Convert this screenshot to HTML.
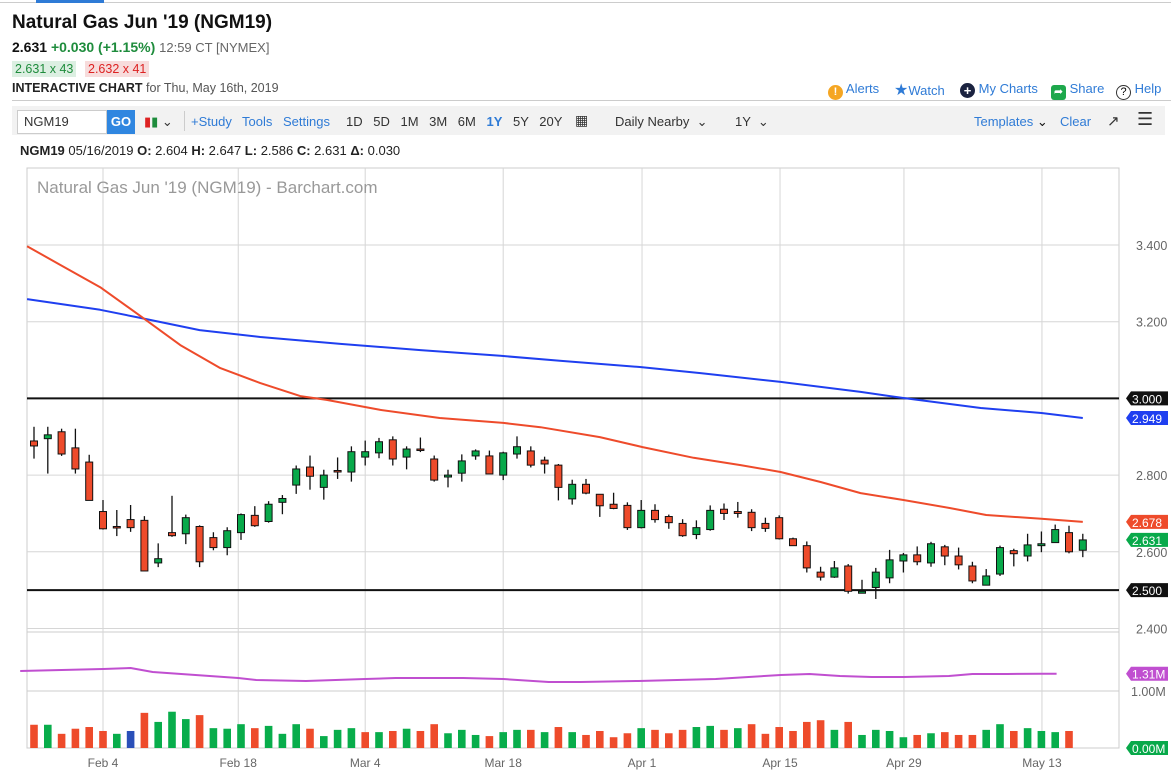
<!DOCTYPE html>
<html><head><meta charset="utf-8">
<style>
body{margin:0;width:1171px;height:771px;overflow:hidden;background:#fff;font-family:"Liberation Sans","DejaVu Sans",sans-serif;position:relative}
.a{position:absolute;white-space:nowrap}
.blue{color:#2f7bd6}
.tb{font-size:13px;color:#333;top:114px}
</style></head><body>
<div class="a" style="left:0;top:2px;width:1171px;height:1px;background:#ccc"></div>
<div class="a" style="left:36px;top:0;width:68px;height:3px;background:#2f7bd6"></div>
<div class="a" style="left:12px;top:12px;font-size:19px;font-weight:bold;color:#111">Natural Gas Jun '19 (NGM19)</div>
<div class="a" style="left:12px;top:39px;font-size:14px;color:#111"><b>2.631</b> <b style="color:#1e8c3c">+0.030 (+1.15%)</b> <span style="color:#666;font-size:13px">12:59 CT [NYMEX]</span></div>
<div class="a" style="left:12px;top:61px;padding:1px 3px;font-size:12.5px;background:#dcefe2;color:#1e8c3c">2.631 x 43</div>
<div class="a" style="left:85px;top:61px;padding:1px 3px;font-size:12.5px;background:#f7dcdc;color:#d22">2.632 x 41</div>
<div class="a" style="left:12px;top:81px;font-size:12.5px;color:#222"><b>INTERACTIVE CHART</b> <span style="color:#555">for Thu, May 16th, 2019</span></div>
<div class="a" style="left:828px;top:81px;font-size:13px" ><span style="display:inline-block;width:15px;height:15px;border-radius:50%;background:#f5a623;color:#fff;font-size:11px;text-align:center;line-height:15px;font-weight:bold;vertical-align:-2px">!</span> <span class="blue">Alerts</span></div>
<div class="a" style="left:894px;top:80px;font-size:13px"><span style="color:#2f7bd6;font-size:16px">★</span><span class="blue">Watch</span></div>
<div class="a" style="left:960px;top:81px;font-size:13px"><span style="display:inline-block;width:15px;height:15px;border-radius:50%;background:#1b2340;color:#fff;font-size:13px;text-align:center;line-height:15px;font-weight:bold;vertical-align:-2px">+</span> <span class="blue">My Charts</span></div>
<div class="a" style="left:1051px;top:81px;font-size:13px"><span style="display:inline-block;width:15px;height:15px;border-radius:3px;background:#1ea84c;color:#fff;font-size:11px;text-align:center;line-height:15px;vertical-align:-2px">➦</span> <span class="blue">Share</span></div>
<div class="a" style="left:1116px;top:81px;font-size:13px"><span style="display:inline-block;width:13px;height:13px;border-radius:50%;border:1px solid #333;font-size:11px;text-align:center;line-height:13px;vertical-align:-2px">?</span> <span class="blue">Help</span></div>
<div class="a" style="left:12px;top:100px;width:1159px;height:1px;background:#ccc"></div>
<div class="a" style="left:12px;top:106px;width:1153px;height:29px;background:#f2f2f2"></div>
<div class="a" style="left:17px;top:110px;width:82px;height:22px;border:1px solid #ccc;background:#fff;font-size:13px;line-height:22px;padding-left:6px;color:#333">NGM19</div>
<div class="a" style="left:107px;top:110px;width:28px;height:24px;background:#2f86e0;color:#fff;font-weight:bold;font-size:13px;text-align:center;line-height:24px">GO</div>
<div class="a tb" style="left:144px"><span style="color:#d22">▮</span><span style="color:#1e8c3c">▮</span> ⌄</div>
<div class="a" style="left:184px;top:111px;width:1px;height:20px;background:#ccc"></div>
<div class="a tb blue" style="left:191px;color:#2f7bd6">+Study</div>
<div class="a tb" style="left:242px;color:#2f7bd6">Tools</div>
<div class="a tb" style="left:283px;color:#2f7bd6">Settings</div>
<div class="a tb" style="left:346px;word-spacing:7px">1D 5D 1M 3M 6M <b style="color:#2f7bd6">1Y</b> 5Y 20Y</div>
<div class="a tb" style="left:575px;top:112px;font-size:14px">▦</div>
<div class="a tb" style="left:615px">Daily Nearby &nbsp;⌄</div>
<div class="a tb" style="left:735px">1Y &nbsp;⌄</div>
<div class="a tb" style="left:974px;color:#2f7bd6">Templates <span style="color:#111">⌄</span></div>
<div class="a tb" style="left:1060px;color:#2f7bd6">Clear</div>
<div class="a tb" style="left:1107px;font-size:15px;top:112px">↗</div>
<div class="a tb" style="left:1137px;font-size:18px;top:109px">☰</div>
<div class="a" style="left:20px;top:143px;font-size:13px;color:#222"><b>NGM19</b> 05/16/2019 <b>O:</b> 2.604 <b>H:</b> 2.647 <b>L:</b> 2.586 <b>C:</b> 2.631 <b>Δ:</b> 0.030</div>

<svg id="chart" class="a" style="left:0;top:0" width="1171" height="771"></svg>
<script>
const opens=[2.889,2.895,2.913,2.871,2.834,2.705,2.666,2.684,2.682,2.571,2.650,2.647,2.666,2.637,2.611,2.650,2.695,2.679,2.729,2.774,2.821,2.768,2.812,2.808,2.847,2.858,2.892,2.847,2.868,2.842,2.795,2.805,2.850,2.850,2.800,2.855,2.863,2.839,2.826,2.738,2.776,2.750,2.724,2.721,2.663,2.708,2.692,2.674,2.645,2.658,2.711,2.705,2.703,2.674,2.689,2.634,2.616,2.547,2.534,2.563,2.492,2.507,2.532,2.576,2.592,2.571,2.613,2.589,2.563,2.513,2.542,2.603,2.589,2.616,2.624,2.650,2.604];
const highs=[2.926,2.926,2.921,2.921,2.853,2.735,2.709,2.722,2.693,2.622,2.746,2.697,2.669,2.651,2.664,2.700,2.719,2.732,2.748,2.825,2.851,2.814,2.846,2.875,2.890,2.897,2.901,2.875,2.898,2.851,2.814,2.854,2.867,2.864,2.861,2.901,2.875,2.848,2.829,2.788,2.790,2.750,2.754,2.729,2.735,2.724,2.697,2.685,2.682,2.721,2.726,2.730,2.711,2.689,2.695,2.637,2.627,2.561,2.576,2.568,2.527,2.558,2.605,2.597,2.614,2.626,2.618,2.611,2.574,2.555,2.616,2.608,2.647,2.653,2.671,2.668,2.647];
const lows=[2.843,2.804,2.850,2.804,2.734,2.658,2.641,2.652,2.550,2.560,2.639,2.620,2.560,2.604,2.591,2.631,2.665,2.676,2.698,2.751,2.762,2.736,2.790,2.783,2.825,2.844,2.825,2.815,2.860,2.783,2.768,2.783,2.840,2.803,2.787,2.843,2.820,2.804,2.734,2.723,2.750,2.691,2.711,2.657,2.661,2.676,2.660,2.639,2.633,2.655,2.683,2.689,2.654,2.652,2.632,2.616,2.546,2.525,2.532,2.491,2.492,2.477,2.518,2.546,2.565,2.561,2.565,2.554,2.518,2.513,2.537,2.562,2.575,2.599,2.624,2.596,2.586];
const closes=[2.876,2.905,2.855,2.816,2.734,2.660,2.664,2.663,2.550,2.582,2.642,2.689,2.574,2.611,2.655,2.697,2.668,2.724,2.739,2.816,2.797,2.800,2.811,2.861,2.861,2.887,2.842,2.868,2.867,2.787,2.800,2.837,2.863,2.803,2.858,2.874,2.826,2.829,2.768,2.776,2.753,2.720,2.713,2.663,2.708,2.684,2.676,2.642,2.663,2.708,2.700,2.700,2.663,2.661,2.634,2.616,2.558,2.534,2.558,2.497,2.497,2.547,2.579,2.592,2.574,2.621,2.589,2.566,2.524,2.537,2.611,2.595,2.618,2.621,2.658,2.600,2.631];
const volumes=[0.41,0.41,0.25,0.34,0.37,0.30,0.25,0.30,0.62,0.46,0.64,0.51,0.58,0.35,0.34,0.42,0.35,0.39,0.25,0.42,0.34,0.21,0.32,0.35,0.28,0.28,0.30,0.34,0.30,0.42,0.26,0.32,0.23,0.21,0.28,0.32,0.32,0.28,0.37,0.28,0.23,0.30,0.19,0.26,0.35,0.32,0.26,0.32,0.37,0.39,0.32,0.35,0.42,0.25,0.37,0.30,0.46,0.49,0.32,0.46,0.23,0.32,0.30,0.19,0.23,0.26,0.28,0.23,0.23,0.32,0.42,0.30,0.35,0.30,0.28,0.30];
const volColors="rgrrrrgbrgggrgggrgggrgggrgrgrrgggrggrgrgrrrrgrrrggrgrrrrrrgrggggrgrrrggrgggr";
const ma50Idx=[-0.5,1.9,4.8,7.7,10.6,13.5,16.4,19.3,21.2,25.1,29.4,34,36.7,41,44.1,47.8,51.2,54.1,57,59.9,63,66.4,69,73,76];
const ma50Val=[3.397,3.348,3.290,3.215,3.139,3.079,3.040,3.006,2.996,2.970,2.949,2.936,2.925,2.899,2.873,2.845,2.826,2.808,2.782,2.753,2.735,2.714,2.696,2.686,2.678];
const ma200Idx=[-0.5,4.8,7.7,12,16.4,22.2,28,33.8,38.1,43.9,48.3,54.1,59.9,63,68.6,73,76];
const ma200Val=[3.259,3.231,3.210,3.178,3.160,3.142,3.126,3.111,3.098,3.082,3.066,3.043,3.017,3.001,2.975,2.962,2.949];
const volMaIdx=[-1,5,7,8.6,14.8,16.1,19.7,24,26.2,31.1,34,37.3,39.6,43.8,49.4,54.1,56.2,58.4,60.7,63,66.3,68,70.5,73,74.1];
const volMaVal=[1.358,1.393,1.411,1.340,1.235,1.199,1.182,1.217,1.235,1.235,1.217,1.164,1.164,1.182,1.217,1.287,1.305,1.270,1.252,1.252,1.270,1.305,1.305,1.31,1.31];
const priceTicks=[3.4,3.2,3.0,2.8,2.6,2.4];
const dateLabels=["Feb 4","Feb 18","Mar 4","Mar 18","Apr 1","Apr 15","Apr 29","May 13"];
const dateIdx=[5,14.8,24,34,44.06,54.06,63.04,73.04];
const hLines=[3.0,2.5];

const svg=document.getElementById('chart');
const NS='http://www.w3.org/2000/svg';
const L=27,R=1119,PT=168,PB=629;
const xOf=i=>34+i*13.8;
const yOf=p=>245+(3.4-p)*383.5;
const vY=v=>748-v*56.7;
function mk(t,a,p){const e=document.createElementNS(NS,t);for(const k in a)e.setAttribute(k,a[k]);(p||svg).appendChild(e);return e;}
let fr=mk('rect',{x:L,y:PT,width:R-L,height:748-PT,fill:'none',stroke:'#ccc'});


let sep=mk('line',{x1:L,x2:R,y1:632,y2:632,stroke:'#ccc'});


let vg=mk('line',{x1:L,x2:R,y1:691,y2:691,stroke:'#ccc'});


priceTicks.forEach(p=>{
  const y=yOf(p);
  const g=mk('line',{x1:L,x2:R,y1:y,y2:y,stroke:'#d6d6d6'});
  
  
  const t=mk('text',{x:1136,y:y+5,'font-size':12.5,fill:'#666'});t.textContent=p.toFixed(3);
  
  
});
dateLabels.forEach((d,k)=>{
  const x=xOf(dateIdx[k]);
  const g=mk('line',{x1:x,x2:x,y1:PT,y2:748,stroke:'#d6d6d6'});
  
  
  const t=mk('text',{x:x,y:767,'font-size':12,fill:'#666','text-anchor':'middle'});t.textContent=d;
  
  
});
const ttl=mk('text',{x:37,y:193,'font-size':17,fill:'#999'});ttl.textContent="Natural Gas Jun '19 (NGM19) - Barchart.com";


hLines.forEach(p=>{
  const l=mk('line',{x1:L,x2:R,y1:yOf(p),y2:yOf(p),stroke:'#111','stroke-width':2});
  
  
});
function path(ix,vals,yf,color,name){
  const d=ix.map((i,k)=>(k?'L':'M')+xOf(i).toFixed(1)+','+yf(vals[k]).toFixed(1)).join(' ');
  const p=mk('path',{d:d,fill:'none',stroke:color,'stroke-width':2,'stroke-linejoin':'round'});
  
  
}
path(ma200Idx,ma200Val,yOf,'#1f3ff0','ma-200-line');
path(ma50Idx,ma50Val,yOf,'#ee4b2b','ma-50-line');
path(volMaIdx,volMaVal,vY,'#c04fd0','volume-ma-line');
closes.forEach((c,i)=>{
  const x=xOf(i),o=opens[i],up=c>=o;
  const g=mk('g',{});
  
  
  mk('line',{x1:x,x2:x,y1:yOf(highs[i]),y2:yOf(lows[i]),stroke:'#111','stroke-width':1.3},g);
  const top=yOf(Math.max(o,c)),bot=yOf(Math.min(o,c));
  mk('rect',{x:x-3.5,y:top,width:7,height:Math.max(bot-top,1.5),fill:up?'#08a94a':'#ee4b2b',stroke:'#111','stroke-width':1},g);
});
volumes.forEach((v,i)=>{
  const ch=volColors[i];
  const b=mk('rect',{x:xOf(i)-3.8,y:vY(v),width:7.6,height:v*56.7,fill:ch==='g'?'#08ad4b':ch==='b'?'#2a4fb8':'#ee4b2b'});
  
  
});
const vl=mk('text',{x:1131,y:696,'font-size':12.5,fill:'#666'});vl.textContent='1.00M';


function tag(y,txt,color,name){
  const g=mk('g',{});
  
  
  mk('path',{d:`M1126,${y} L1131,${y-7} L1168,${y-7} L1168,${y+7} L1131,${y+7} Z`,fill:color},g);
  const t=mk('text',{x:1132,y:y+5,'font-size':12,fill:'#fff'},g);t.textContent=txt;
}
tag(yOf(3.0),'3.000','#111','level-tag-3000');
tag(yOf(ma200Val[ma200Val.length-1]),ma200Val[ma200Val.length-1].toFixed(3),'#1f3ff0','ma-200-tag');
tag(yOf(ma50Val[ma50Val.length-1]),ma50Val[ma50Val.length-1].toFixed(3),'#ee4b2b','ma-50-tag');
tag(yOf(closes[closes.length-1]),closes[closes.length-1].toFixed(3),'#08a94a','last-price-tag');
tag(yOf(2.5),'2.500','#111','level-tag-2500');
tag(vY(volMaVal[volMaVal.length-1]),volMaVal[volMaVal.length-1].toFixed(2)+'M','#c04fd0','volume-ma-tag');
tag(748,'0.00M','#08a94a','volume-tag');
</script>
</body></html>
